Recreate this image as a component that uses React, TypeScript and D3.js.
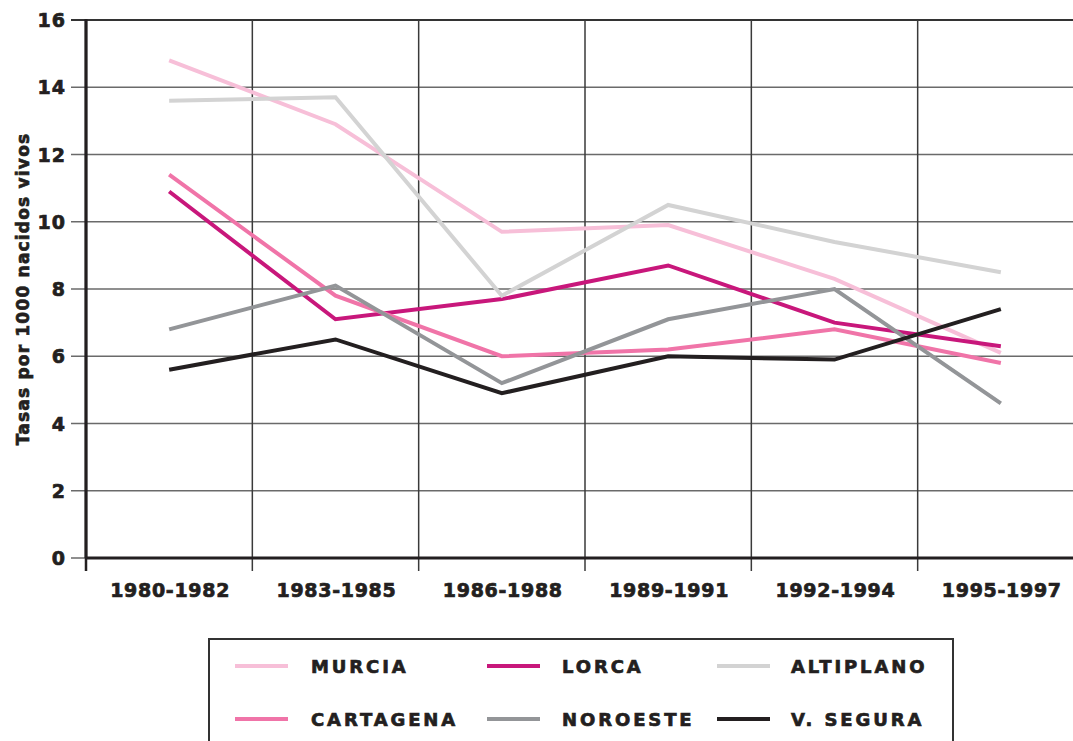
import React from "react";
import * as d3 from "d3";

const periods = ["1980-1982", "1983-1985", "1986-1988", "1989-1991", "1992-1994", "1995-1997"];
const yTicks = [0, 2, 4, 6, 8, 10, 12, 14, 16];

const murcia = [14.8, 12.9, 9.7, 9.9, 8.3, 6.1];
const lorca = [10.9, 7.1, 7.7, 8.7, 7.0, 6.3];
const altiplano = [13.6, 13.7, 7.8, 10.5, 9.4, 8.5];
const cartagena = [11.4, 7.8, 6.0, 6.2, 6.8, 5.8];
const noroeste = [6.8, 8.1, 5.2, 7.1, 8.0, 4.6];
const vSegura = [5.6, 6.5, 4.9, 6.0, 5.9, 7.4];

const seriesNames = ["MURCIA", "LORCA", "ALTIPLANO", "CARTAGENA", "NOROESTE", "V. SEGURA"];
const seriesValues = [murcia, lorca, altiplano, cartagena, noroeste, vSegura];
const seriesColors = ["#f7bfd8", "#c8177b", "#d3d3d3", "#f074a8", "#939598", "#231f20"];
// drawing order (back to front)
const drawOrder = [0, 1, 3, 2, 4, 5];

const font = "'DejaVu Sans', Verdana, sans-serif";
const ink = "#231f20";
// the original type is heavier than DejaVu Bold, a thin outline thickens it
const heavy = { fontFamily: font, fontWeight: "bold", fill: ink, stroke: ink, strokeWidth: 0.7 };

const App = () => {
  const width = 1073;
  const height = 741;
  const left = 86;
  const top = 20;
  const bottom = 558;

  const x = d3.scaleBand().domain(periods).range([left, 1084]).padding(0);
  const y = d3.scaleLinear().domain([0, 16]).range([bottom, top]);
  const cx = (p) => x(p) + x.bandwidth() / 2;

  const line = d3
    .line()
    .x((d, i) => cx(periods[i]))
    .y((d) => y(d));

  const edges = periods.map((p) => x(p)).concat([x(periods[periods.length - 1]) + x.bandwidth()]);

  const legendCols = [235, 487, 717];
  const legendText = [311, 562, 791];
  const legendRows = [666, 719];

  return (
    <svg
      width={width}
      height={height}
      style={{ position: "absolute", left: 0, top: 0, background: "#fff" }}
    >
      {/* horizontal grid + left ticks */}
      {yTicks.map((t) => (
        <g key={"h" + t}>
          <line x1={71} x2={width} y1={y(t)} y2={y(t)} stroke={t === 16 ? "#333" : "#6a6a6a"} strokeWidth={t === 16 ? 2 : 1.6} />
          <text x={66} y={y(t) + 7} textAnchor="end" fontSize={19} letterSpacing={1} {...heavy}>
            {t}
          </text>
        </g>
      ))}

      {/* vertical grid + bottom ticks */}
      {edges.map((e, i) => (
        <line key={"v" + i} x1={e} x2={e} y1={top} y2={571} stroke={i === 0 ? ink : "#3a3a3a"} strokeWidth={i === 0 ? 2.5 : 1.5} />
      ))}

      {/* axes */}
      <line x1={left} x2={width} y1={bottom} y2={bottom} stroke={ink} strokeWidth={3} />
      <line x1={left} x2={left} y1={top - 1} y2={bottom} stroke={ink} strokeWidth={3} />

      {periods.map((p) => (
        <text key={p} x={cx(p) + 1} y={597} textAnchor="middle" fontSize={19} letterSpacing={0.7} {...heavy}>
          {p}
        </text>
      ))}

      <text
        transform={`translate(29,${(top + bottom) / 2}) rotate(-90)`}
        textAnchor="middle"
        fontSize={17}
        letterSpacing={1.2}
        {...heavy}
      >
        Tasas por 1000 nacidos vivos
      </text>

      {/* series */}
      {drawOrder.map((k) => (
        <path
          key={seriesNames[k]}
          d={line(seriesValues[k])}
          fill="none"
          stroke={seriesColors[k]}
          strokeWidth={4}
          strokeLinejoin="miter"
        />
      ))}

      {/* legend */}
      <rect x={209} y={639} width={744} height={140} fill="none" stroke="#333" strokeWidth={2} />
      {seriesNames.map((name, i) => {
        const col = i % 3;
        const row = Math.floor(i / 3);
        return (
          <g key={"lg" + name}>
            <line
              x1={legendCols[col]}
              x2={legendCols[col] + 53}
              y1={legendRows[row]}
              y2={legendRows[row]}
              stroke={seriesColors[i]}
              strokeWidth={4}
            />
            <text x={legendText[col]} y={legendRows[row] + 7} fontSize={18} letterSpacing={2.9} {...heavy}>
              {name}
            </text>
          </g>
        );
      })}
    </svg>
  );
};

export default App;
